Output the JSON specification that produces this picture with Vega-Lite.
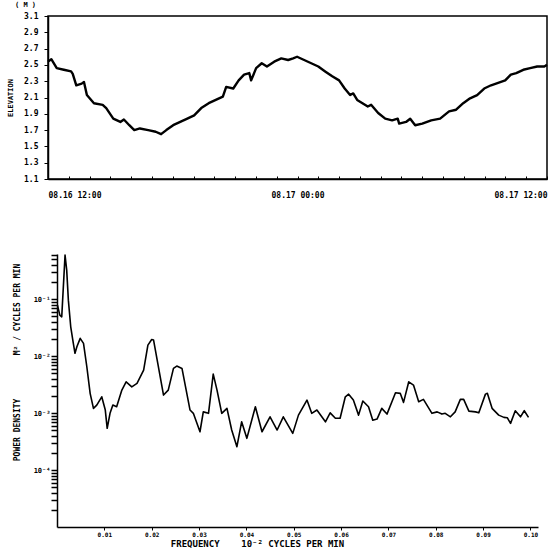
{
  "$schema": "https://vega.github.io/schema/vega-lite/v6.json",
  "background": "white",
  "padding": {"left": 5, "top": 0, "right": 0, "bottom": 0},
  "bounds": "flush",
  "center": true,
  "spacing": 75,
  "config": {
    "font": "DejaVu Sans Mono",
    "axis": {
      "labelFont": "DejaVu Sans Mono", "labelFontWeight": "bold", "labelColor": "black",
      "titleFont": "DejaVu Sans Mono", "titleFontWeight": "bold", "titleColor": "black",
      "domainColor": "black", "tickColor": "black", "grid": false, "labelOverlap": false
    }
  },
  "datasets": {
    "elevation": [
      {"hour": 0.00, "elevation": 2.54}, {"hour": 0.16, "elevation": 2.57}, {"hour": 0.42, "elevation": 2.46},
      {"hour": 0.76, "elevation": 2.44}, {"hour": 1.11, "elevation": 2.42}, {"hour": 1.19, "elevation": 2.39},
      {"hour": 1.36, "elevation": 2.25}, {"hour": 1.62, "elevation": 2.27}, {"hour": 1.73, "elevation": 2.29},
      {"hour": 1.87, "elevation": 2.13}, {"hour": 2.21, "elevation": 2.03}, {"hour": 2.63, "elevation": 2.01},
      {"hour": 2.80, "elevation": 1.97}, {"hour": 3.14, "elevation": 1.84}, {"hour": 3.48, "elevation": 1.80},
      {"hour": 3.65, "elevation": 1.83}, {"hour": 3.91, "elevation": 1.76}, {"hour": 4.15, "elevation": 1.70},
      {"hour": 4.42, "elevation": 1.72}, {"hour": 4.82, "elevation": 1.70}, {"hour": 5.18, "elevation": 1.68},
      {"hour": 5.44, "elevation": 1.65}, {"hour": 5.69, "elevation": 1.70}, {"hour": 6.02, "elevation": 1.76},
      {"hour": 6.36, "elevation": 1.80}, {"hour": 6.70, "elevation": 1.84}, {"hour": 7.03, "elevation": 1.88},
      {"hour": 7.37, "elevation": 1.97}, {"hour": 7.73, "elevation": 2.03}, {"hour": 8.07, "elevation": 2.07},
      {"hour": 8.41, "elevation": 2.11}, {"hour": 8.57, "elevation": 2.23}, {"hour": 8.91, "elevation": 2.21},
      {"hour": 9.17, "elevation": 2.31}, {"hour": 9.43, "elevation": 2.38}, {"hour": 9.68, "elevation": 2.40},
      {"hour": 9.77, "elevation": 2.31}, {"hour": 10.01, "elevation": 2.46}, {"hour": 10.28, "elevation": 2.52},
      {"hour": 10.53, "elevation": 2.48}, {"hour": 10.88, "elevation": 2.54}, {"hour": 11.22, "elevation": 2.58},
      {"hour": 11.55, "elevation": 2.56}, {"hour": 11.79, "elevation": 2.58}, {"hour": 11.98, "elevation": 2.60},
      {"hour": 12.32, "elevation": 2.56}, {"hour": 12.66, "elevation": 2.52}, {"hour": 13.00, "elevation": 2.48},
      {"hour": 13.33, "elevation": 2.42}, {"hour": 13.67, "elevation": 2.36}, {"hour": 14.00, "elevation": 2.31},
      {"hour": 14.27, "elevation": 2.21}, {"hour": 14.53, "elevation": 2.13}, {"hour": 14.68, "elevation": 2.15},
      {"hour": 14.87, "elevation": 2.07}, {"hour": 15.38, "elevation": 1.99}, {"hour": 15.54, "elevation": 2.01},
      {"hour": 15.88, "elevation": 1.91}, {"hour": 16.22, "elevation": 1.84}, {"hour": 16.55, "elevation": 1.82},
      {"hour": 16.82, "elevation": 1.84}, {"hour": 16.89, "elevation": 1.78}, {"hour": 17.22, "elevation": 1.80},
      {"hour": 17.42, "elevation": 1.84}, {"hour": 17.66, "elevation": 1.76}, {"hour": 18.00, "elevation": 1.78},
      {"hour": 18.43, "elevation": 1.82}, {"hour": 18.86, "elevation": 1.84}, {"hour": 19.29, "elevation": 1.93},
      {"hour": 19.63, "elevation": 1.95}, {"hour": 19.97, "elevation": 2.03}, {"hour": 20.30, "elevation": 2.09},
      {"hour": 20.64, "elevation": 2.13}, {"hour": 20.98, "elevation": 2.21}, {"hour": 21.31, "elevation": 2.25},
      {"hour": 21.65, "elevation": 2.28}, {"hour": 21.99, "elevation": 2.31}, {"hour": 22.26, "elevation": 2.38},
      {"hour": 22.52, "elevation": 2.40}, {"hour": 22.86, "elevation": 2.44}, {"hour": 23.19, "elevation": 2.46},
      {"hour": 23.53, "elevation": 2.48}, {"hour": 23.87, "elevation": 2.48}, {"hour": 24.00, "elevation": 2.50}
    ],
    "spectrum": [
      {"frequency": 0.0001, "density": 0.0785}, {"frequency": 0.0006, "density": 0.0524}, {"frequency": 0.001, "density": 0.0489},
      {"frequency": 0.0017, "density": 0.592}, {"frequency": 0.00205, "density": 0.323}, {"frequency": 0.0024, "density": 0.096},
      {"frequency": 0.0029, "density": 0.0327}, {"frequency": 0.00345, "density": 0.0167}, {"frequency": 0.0038, "density": 0.0112},
      {"frequency": 0.0042, "density": 0.0146}, {"frequency": 0.0049, "density": 0.0205}, {"frequency": 0.0056, "density": 0.0167},
      {"frequency": 0.0063, "density": 0.0065}, {"frequency": 0.007, "density": 0.00222}, {"frequency": 0.0077, "density": 0.00121},
      {"frequency": 0.0084, "density": 0.00138}, {"frequency": 0.00945, "density": 0.00193}, {"frequency": 0.0102, "density": 0.00113},
      {"frequency": 0.0106, "density": 0.00054}, {"frequency": 0.0112, "density": 0.00099}, {"frequency": 0.0118, "density": 0.00138},
      {"frequency": 0.0126, "density": 0.00129}, {"frequency": 0.0137, "density": 0.00253}, {"frequency": 0.0146, "density": 0.00354},
      {"frequency": 0.0158, "density": 0.00289}, {"frequency": 0.0169, "density": 0.00332}, {"frequency": 0.0183, "density": 0.00568},
      {"frequency": 0.0192, "density": 0.0156}, {"frequency": 0.02, "density": 0.0196}, {"frequency": 0.0204, "density": 0.0191},
      {"frequency": 0.0225, "density": 0.00207}, {"frequency": 0.0235, "density": 0.00253}, {"frequency": 0.0246, "density": 0.00608},
      {"frequency": 0.0253, "density": 0.00668}, {"frequency": 0.0264, "density": 0.00608}, {"frequency": 0.0281, "density": 0.00113},
      {"frequency": 0.0288, "density": 0.00099}, {"frequency": 0.0302, "density": 0.00047}, {"frequency": 0.0309, "density": 0.00105},
      {"frequency": 0.032, "density": 0.00099}, {"frequency": 0.033, "density": 0.00483}, {"frequency": 0.0338, "density": 0.00253},
      {"frequency": 0.0348, "density": 0.00099}, {"frequency": 0.0359, "density": 0.00121}, {"frequency": 0.0369, "density": 0.000504},
      {"frequency": 0.038, "density": 0.000257}, {"frequency": 0.039, "density": 0.000703}, {"frequency": 0.0401, "density": 0.00036},
      {"frequency": 0.0419, "density": 0.00129}, {"frequency": 0.0433, "density": 0.00047}, {"frequency": 0.045, "density": 0.00086},
      {"frequency": 0.0465, "density": 0.000504}, {"frequency": 0.0478, "density": 0.00086}, {"frequency": 0.0498, "density": 0.00044},
      {"frequency": 0.051, "density": 0.00092}, {"frequency": 0.0528, "density": 0.00169}, {"frequency": 0.0538, "density": 0.00099},
      {"frequency": 0.0549, "density": 0.00113}, {"frequency": 0.0567, "density": 0.000703}, {"frequency": 0.0577, "density": 0.00101},
      {"frequency": 0.0588, "density": 0.00081}, {"frequency": 0.0598, "density": 0.00081}, {"frequency": 0.0609, "density": 0.00193},
      {"frequency": 0.0616, "density": 0.00215}, {"frequency": 0.0626, "density": 0.00169}, {"frequency": 0.0637, "density": 0.00092},
      {"frequency": 0.0646, "density": 0.00163}, {"frequency": 0.0658, "density": 0.00129}, {"frequency": 0.0667, "density": 0.00075},
      {"frequency": 0.0676, "density": 0.000785}, {"frequency": 0.0686, "density": 0.00121}, {"frequency": 0.0697, "density": 0.00096},
      {"frequency": 0.0715, "density": 0.00227}, {"frequency": 0.0725, "density": 0.00222}, {"frequency": 0.0732, "density": 0.00154},
      {"frequency": 0.0743, "density": 0.00354}, {"frequency": 0.0753, "density": 0.0031}, {"frequency": 0.0764, "density": 0.00158},
      {"frequency": 0.0774, "density": 0.00174}, {"frequency": 0.0792, "density": 0.00099}, {"frequency": 0.0803, "density": 0.00105},
      {"frequency": 0.0813, "density": 0.00096}, {"frequency": 0.082, "density": 0.00099}, {"frequency": 0.0831, "density": 0.00086},
      {"frequency": 0.0841, "density": 0.00105}, {"frequency": 0.0852, "density": 0.00174}, {"frequency": 0.0859, "density": 0.00174},
      {"frequency": 0.087, "density": 0.00108}, {"frequency": 0.0884, "density": 0.00105}, {"frequency": 0.0891, "density": 0.00101},
      {"frequency": 0.0905, "density": 0.00215}, {"frequency": 0.0909, "density": 0.00222}, {"frequency": 0.0919, "density": 0.00121},
      {"frequency": 0.0933, "density": 0.00092}, {"frequency": 0.0944, "density": 0.00084}, {"frequency": 0.0951, "density": 0.00083},
      {"frequency": 0.0958, "density": 0.00066}, {"frequency": 0.0968, "density": 0.0011}, {"frequency": 0.0979, "density": 0.00086},
      {"frequency": 0.0987, "density": 0.0011}, {"frequency": 0.0996, "density": 0.00084}
    ]
  },
  "vconcat": [
    {
      "width": 499,
      "height": 163,
      "view": {"stroke": "black", "strokeWidth": 1.5},
      "title": {"text": "( M )", "anchor": "start", "frame": "group", "dx": -33, "fontSize": 7, "font": "DejaVu Sans Mono", "fontWeight": "bold", "offset": 4, "color": "black"},
      "data": {"name": "elevation"},
      "mark": {"type": "line", "color": "black", "strokeWidth": 2.4, "strokeJoin": "round"},
      "encoding": {
        "x": {
          "field": "hour", "type": "quantitative",
          "scale": {"domain": [0, 24], "nice": false},
          "axis": {
            "title": null,
            "values": [0,1,2,3,4,5,6,7,8,9,10,11,12,13,14,15,16,17,18,19,20,21,22,23,24],
            "labelExpr": "datum.value == 0 ? '08.16 12:00' : datum.value == 12 ? '08.17 00:00' : datum.value == 24 ? '08.17 12:00' : ''",
            "labelFlush": true, "tickSize": -3, "labelPadding": 15, "labelFontSize": 8, "domainWidth": 1.5
          }
        },
        "y": {
          "field": "elevation", "type": "quantitative",
          "scale": {"domain": [1.1, 3.1], "nice": false, "zero": false},
          "axis": {
            "title": "ELEVATION", "titleFontSize": 7, "titlePadding": 10,
            "values": [1.1, 1.3, 1.5, 1.7, 1.9, 2.1, 2.3, 2.5, 2.7, 2.9, 3.1],
            "format": ".1f", "tickSize": 4, "labelPadding": 6, "labelFontSize": 8, "domainWidth": 1.5
          }
        }
      }
    },
    {
      "width": 481,
      "height": 273,
      "view": {"stroke": null},
      "data": {"name": "spectrum"},
      "mark": {"type": "line", "color": "black", "strokeWidth": 1.6, "strokeJoin": "round"},
      "encoding": {
        "x": {
          "field": "frequency", "type": "quantitative",
          "scale": {"domain": [0, 0.1016], "nice": false, "zero": false},
          "axis": {
            "title": "FREQUENCY\u00a0\u00a0\u00a0\u00a010⁻² CYCLES PER MIN", "titleFontSize": 9, "titleX": 200, "titlePadding": 2,
            "values": [0.01, 0.02, 0.03, 0.04, 0.05, 0.06, 0.07, 0.08, 0.09, 0.1],
            "format": ".2f", "tickSize": 3, "labelPadding": 1, "labelFontSize": 6, "domainWidth": 1.5
          }
        },
        "y": {
          "field": "density", "type": "quantitative",
          "scale": {"type": "log", "domain": [0.00001, 0.62], "nice": false},
          "axis": {
            "title": "POWER DENSITY\u00a0\u00a0\u00a0\u00a0\u00a0\u00a0\u00a0\u00a0\u00a0M² / CYCLES PER MIN", "titleFontSize": 8, "titlePadding": 12, "titleY": 108,
            "values": [0.00002, 0.00003, 0.00004, 0.00005, 0.00006, 0.00007, 0.00008, 0.00009,
                       0.0001, 0.0002, 0.0003, 0.0004, 0.0005, 0.0006, 0.0007, 0.0008, 0.0009,
                       0.001, 0.002, 0.003, 0.004, 0.005, 0.006, 0.007, 0.008, 0.009,
                       0.01, 0.02, 0.03, 0.04, 0.05, 0.06, 0.07, 0.08, 0.09,
                       0.1, 0.2, 0.3, 0.4, 0.5, 0.6],
            "labelExpr": "datum.value == 0.1 ? '10⁻¹' : datum.value == 0.01 ? '10⁻²' : datum.value == 0.001 ? '10⁻³' : datum.value == 0.0001 ? '10⁻⁴' : ''",
            "tickSize": 6, "tickWidth": 1.5, "labelPadding": 1, "labelFontSize": 7, "domainWidth": 1.5
          }
        }
      }
    }
  ]
}
